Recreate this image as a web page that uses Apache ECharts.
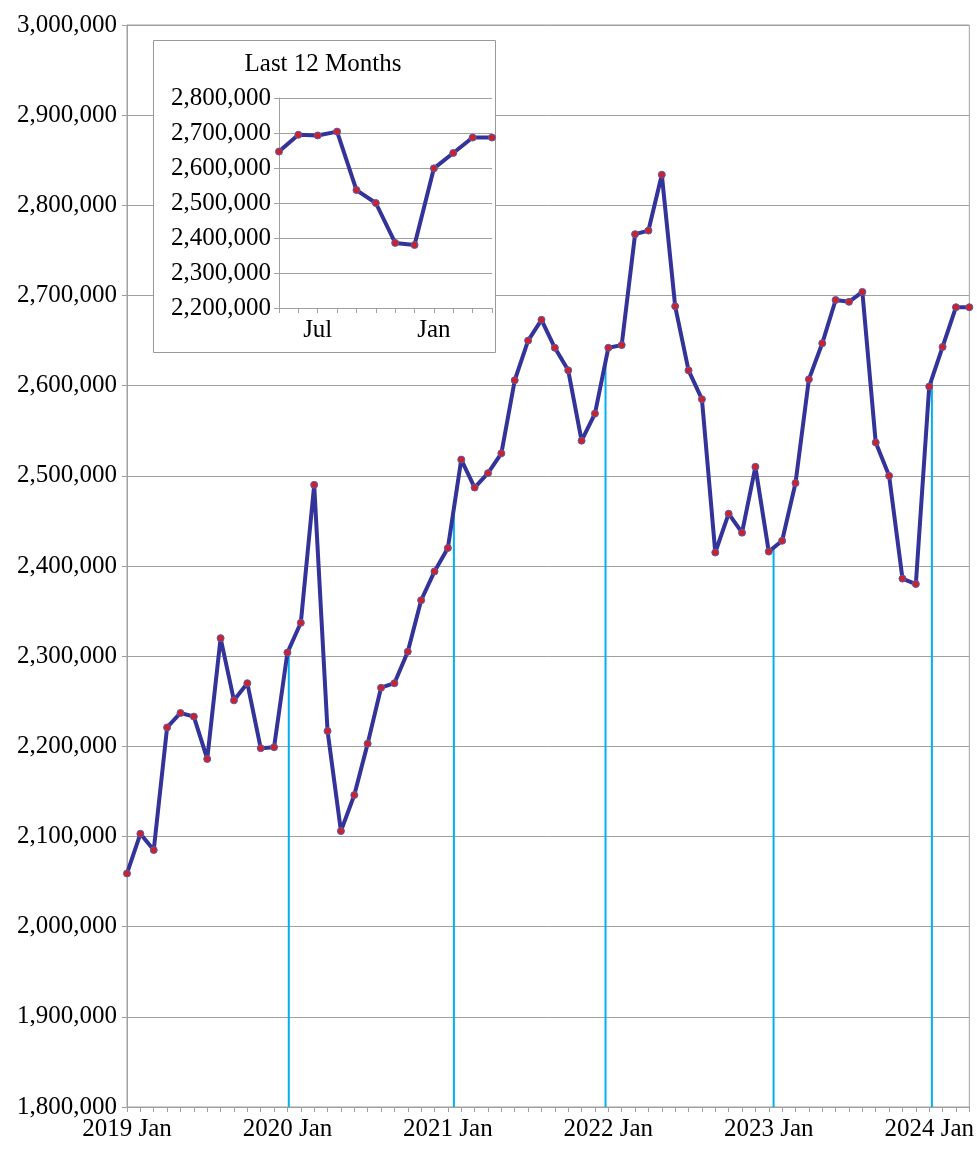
<!DOCTYPE html>
<html>
<head>
<meta charset="utf-8">
<script src="https://cdn.jsdelivr.net/npm/echarts@6/dist/echarts.min.js"></script>
<style>
html,body{margin:0;padding:0;background:#fff;}
#chart{width:977px;height:1150px;}
</style>
</head>
<body>
<div id="chart"></div>
<script>
// Monthly values, 2019 Jan .. 2024 Apr
const values = [
  2059000, 2103000, 2085000, 2221000, 2237000, 2233000, 2186000, 2320000, 2251000, 2270000, 2198000, 2199000,
  2304000, 2337000, 2490000, 2217000, 2106000, 2146000, 2203000, 2265000, 2270000, 2305000, 2362000, 2394000,
  2420000, 2518000, 2487000, 2503000, 2525000, 2606000, 2650000, 2673000, 2642000, 2617000, 2539000, 2569000,
  2642000, 2645000, 2768000, 2772000, 2834000, 2688000, 2617000, 2585000, 2415000, 2458000, 2437000, 2510000,
  2416000, 2428000, 2492000, 2607000, 2647000, 2695000, 2693000, 2704000, 2537000, 2500000, 2386000, 2380000,
  2599000, 2643000, 2687000, 2687000
];
const yearLabels = ['2019 Jan', '2020 Jan', '2021 Jan', '2022 Jan', '2023 Jan', '2024 Jan'];
// positions (in month index) of the light-blue drop lines
const dropLinePos = [12.1, 24.45, 35.79, 48.36, 60.2];
const insetMonths = ['May','Jun','Jul','Aug','Sep','Oct','Nov','Dec','Jan','Feb','Mar','Apr'];
const insetValues = values.slice(values.length - 12);
const insetTitle = 'Last 12 Months';

const FONT = '"Liberation Serif", "Times New Roman", serif';
const FS = 25;
const GRID_C = '#a0a0a0';
const LINE_C = '#333399';
const DOT_C = '#cc2229';
const YMIN = 1800000;

function curveAt(x) {
  const i = Math.floor(x), f = x - i;
  if (i >= values.length - 1) return values[values.length - 1];
  return values[i] + (values[i + 1] - values[i]) * f;
}
const fmt = v => v.toLocaleString('en-US');

const dropSeries = dropLinePos.map(p => ({
  type: 'line', xAxisIndex: 0, yAxisIndex: 0, z: 1,
  symbol: 'none', silent: true,
  lineStyle: { color: '#00b0f0', width: 2 },
  data: [[p, YMIN], [p, curveAt(p)]]
}));

const chart = echarts.init(document.getElementById('chart'), null, { renderer: 'canvas' });
chart.setOption({
  animation: false,
  backgroundColor: '#fff',
  textStyle: { fontFamily: FONT },
  grid: [
    { left: 127, top: 25, right: 5, bottom: 43, show: true, borderColor: GRID_C, borderWidth: 1, backgroundColor: 'transparent' },
    { left: 279, top: 98, right: 485, bottom: 842, z: 11 }
  ],
  graphic: [
    { type: 'rect', z: 10, shape: { x: 153.5, y: 40.5, width: 342, height: 312 },
      style: { fill: '#fff', stroke: '#999', lineWidth: 1 } },
    { type: 'text', z: 12, x: 323, y: 64,
      style: { text: insetTitle, font: FS + 'px ' + FONT, fill: '#000', align: 'center', verticalAlign: 'middle' } }
  ],
  xAxis: [
    { type: 'value', gridIndex: 0, min: 0, max: values.length - 1, interval: 1,
      axisLine: { show: true, lineStyle: { color: GRID_C, width: 1 } },
      axisTick: { show: true, length: 5, lineStyle: { color: GRID_C } },
      splitLine: { show: false },
      axisLabel: { margin: 10, color: '#000', fontSize: FS, fontFamily: FONT,
        formatter: v => (v % 12 === 0 ? (yearLabels[v / 12] || '') : '') } },
    { type: 'category', gridIndex: 1, data: insetMonths, boundaryGap: false, z: 11,
      axisLine: { show: true, lineStyle: { color: GRID_C } },
      axisTick: { show: true, length: 5, interval: 0, lineStyle: { color: GRID_C } },
      axisLabel: { margin: 10, color: '#000', fontSize: FS, fontFamily: FONT,
        interval: (i, v) => v === 'Jul' || v === 'Jan' } }
  ],
  yAxis: [
    { type: 'value', gridIndex: 0, min: YMIN, max: 3000000, interval: 100000,
      axisLine: { show: true, lineStyle: { color: GRID_C } },
      axisTick: { show: true, length: 5, lineStyle: { color: GRID_C } },
      splitLine: { show: true, lineStyle: { color: GRID_C, width: 1 } },
      axisLabel: { margin: 10, color: '#000', fontSize: FS, fontFamily: FONT, formatter: fmt } },
    { type: 'value', gridIndex: 1, min: 2200000, max: 2800000, interval: 100000, z: 11,
      axisLine: { show: true, lineStyle: { color: GRID_C } },
      axisTick: { show: true, length: 5, lineStyle: { color: GRID_C } },
      splitLine: { show: true, lineStyle: { color: GRID_C, width: 1 } },
      axisLabel: { margin: 8, color: '#000', fontSize: FS, fontFamily: FONT, formatter: fmt } }
  ],
  series: [
    ...dropSeries,
    { type: 'line', xAxisIndex: 0, yAxisIndex: 0, z: 3,
      data: values.map((v, i) => [i, v]),
      symbol: 'circle', symbolSize: 7,
      lineStyle: { color: LINE_C, width: 4 },
      itemStyle: { color: DOT_C, borderColor: '#5a5ab0', borderWidth: 1 } },
    { type: 'line', xAxisIndex: 1, yAxisIndex: 1, z: 12,
      data: insetValues,
      symbol: 'circle', symbolSize: 7,
      lineStyle: { color: LINE_C, width: 4 },
      itemStyle: { color: DOT_C, borderColor: '#5a5ab0', borderWidth: 1 } }
  ]
});
</script>
</body>
</html>
